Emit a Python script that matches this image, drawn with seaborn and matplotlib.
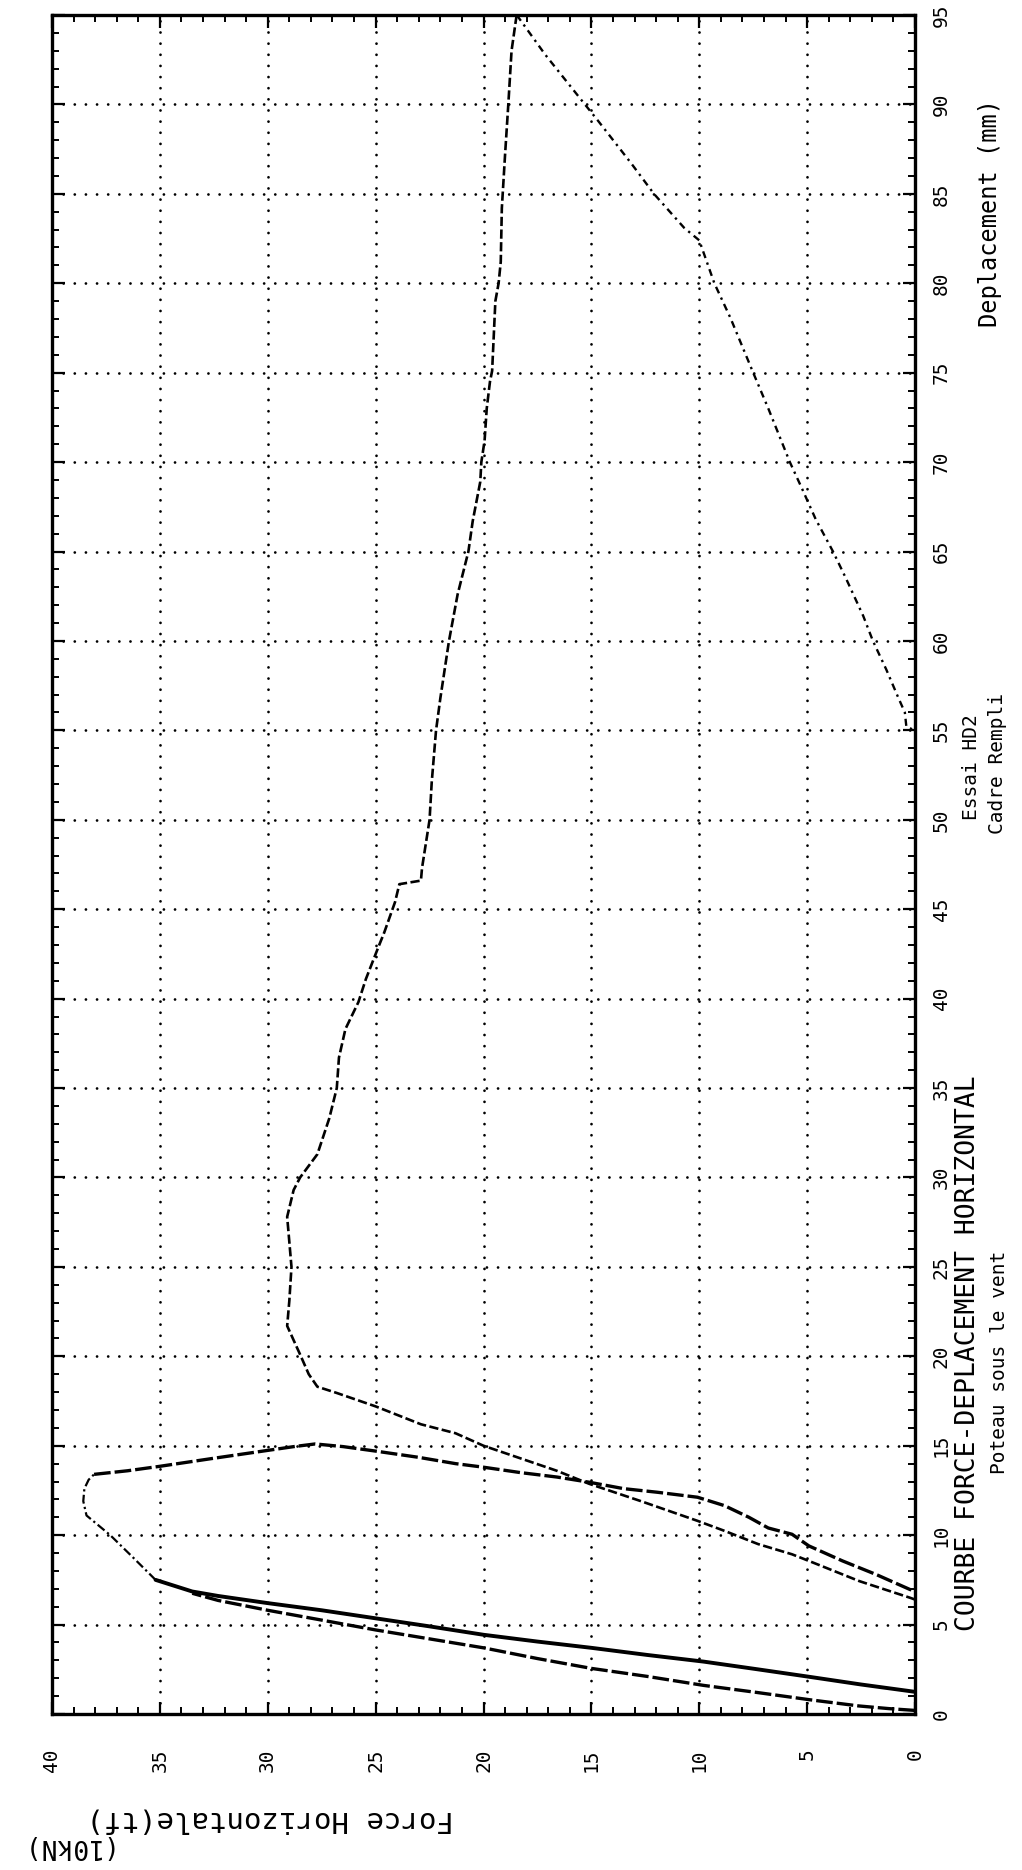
import matplotlib
matplotlib.use("Agg")
import matplotlib.pyplot as plt
import pandas as pd
import seaborn as sns
from matplotlib.ticker import MultipleLocator

# ---------------- data (Force in tf, Deplacement in mm) ----------------
# first loading, lower dashed branch
load1a_force = [0, 1.2, 2.6, 4.9, 7.3, 9.8, 12.4, 15, 17.5, 20, 22.5, 25, 27.5, 30, 32.3, 33.5]
load1a_depl = [0.2, 0.3, 0.45, 0.8, 1.2, 1.6, 2.1, 2.55, 3.1, 3.7, 4.2, 4.7, 5.25, 5.8, 6.35, 6.75]

# first loading, upper solid branch
load1b_force = [0, 2.5, 4.9, 7.3, 9.8, 12.4, 15, 17.5, 20, 22.5, 25, 27.5, 30, 32.3, 33.5, 35.2]
load1b_depl = [1.24, 1.65, 2.08, 2.5, 2.93, 3.3, 3.7, 4.05, 4.43, 4.9, 5.35, 5.8, 6.2, 6.6, 6.85, 7.5]

# peak of first cycle
peak_force = [35.2, 36.2, 37.3, 38.0, 38.4, 38.55, 38.5, 38.3, 38.05]
peak_depl = [7.5, 8.7, 10.0, 10.7, 11.1, 11.9, 12.6, 13.1, 13.4]

# first unloading
unload1_force = [38.05, 36.5, 35, 32.5, 30, 28.8, 27.8, 26.5, 25, 23, 21.3, 20, 18.3, 16.6,
                 15.1, 13.5, 11.95, 10.08, 8.83, 7.7, 6.8, 5.7, 4.92, 3.36, 1.8, 0.23, 0]
unload1_depl = [13.4, 13.6, 13.85, 14.3, 14.74, 14.95, 15.1, 14.95, 14.7, 14.35, 14.0, 13.8, 13.5, 13.25,
                12.96, 12.6, 12.4, 12.12, 11.65, 11.0, 10.4, 10.05, 9.4, 8.56, 7.8, 6.96, 6.9]

# second loading up to 95 mm
load2_force = [0, 0.23, 2.58, 4.92, 5.7, 7.27, 8.83, 10.08, 12.7, 15.1, 16.6, 20, 21.3, 22.9, 25,
               26.8, 27.7, 28.1, 28.5, 29.1, 29.0, 28.9, 29.1, 28.8, 28.5, 27.7, 27.15, 26.8, 26.7,
               26.4, 25.8, 25.45, 24.9, 24.6, 24.1, 23.9, 22.9, 22.85, 22.5, 22.4, 22.2, 22.0, 21.6,
               21.2, 20.7, 20.5, 20.15, 20.1, 19.95, 19.85, 19.7, 19.6, 19.45, 19.3, 19.2, 19.15,
               19.0, 18.85, 18.7, 18.5, 18.46]
load2_depl = [6.4, 6.5, 7.43, 8.56, 8.93, 9.5, 10.24, 10.8, 11.9, 12.87, 13.6, 15.0, 15.7, 16.2, 17.2,
              17.95, 18.3, 19.0, 20.1, 21.7, 23.1, 25.0, 27.8, 29.3, 30.0, 31.3, 33.3, 35.0, 36.7,
              38.3, 39.8, 41.1, 42.8, 43.7, 45.4, 46.4, 46.6, 47.3, 50.0, 52.1, 55.0, 56.8, 60.0,
              62.6, 65.0, 66.7, 68.9, 70.0, 71.2, 73.0, 74.5, 75.1, 79.0, 80.0, 81.2, 84.2,
              87.2, 90.0, 93.0, 94.7, 95.0]

# final unloading
unload2_force = [18.46, 17.15, 15.3, 14.7, 13.15, 12.1, 10.7, 10.0, 9.3, 8.55, 7.5, 6.8, 5.8, 5.23,
                 4.6, 3.8, 3.2, 2.4, 1.95, 1.33, 0.8, 0.47, 0.4, 0]
unload2_depl = [95, 92.8, 90.0, 89.1, 86.7, 85.0, 83.1, 82.4, 80.0, 78.05, 75.0, 73.0, 70.0, 68.5,
                66.8, 65.0, 63.5, 61.4, 60.0, 58.4, 56.9, 56.0, 55.2, 55.0]

force_ticks = [0, 5, 10, 15, 20, 25, 30, 35, 40]
depl_ticks = list(range(0, 100, 5))

# ---------------- figure ----------------
sns.set_theme(style="white")
plt.rcParams["font.family"] = ["DejaVu Sans Mono", "DejaVu Sans"]

W, H = 1022, 1870
fig = plt.figure(figsize=(W / 100, H / 100), dpi=100)
fig.patch.set_facecolor("white")
L, R, T, B = 52, 915, 15, 1714
ax = fig.add_axes([L / W, 1 - B / H, (R - L) / W, (B - T) / H])
ax.set_facecolor("white")

curves = [
    (load1a_force, load1a_depl, 2.4, (0, (5, 1.2))),
    (load1b_force, load1b_depl, 2.8, "-"),
    (peak_force, peak_depl, 1.6, (0, (4, 1.5, 1, 1.5))),
    (unload1_force, unload1_depl, 2.4, (0, (5, 1.2))),
    (load2_force, load2_depl, 1.9, (0, (3.5, 1.3))),
    (unload2_force, unload2_depl, 1.7, (0, (3, 2, 1, 2))),
]
for f, d, lw, ls in curves:
    df = pd.DataFrame({"force": f, "depl": d})
    sns.lineplot(data=df, x="force", y="depl", sort=False, estimator=None, ax=ax,
                 color="black", linewidth=lw, linestyle=ls)

ax.set_xlim(40, 0)
ax.set_ylim(0, 95)
ax.set_xlabel("")
ax.set_ylabel("")

ax.set_xticks(force_ticks)
ax.set_xticklabels([str(v) for v in force_ticks], rotation=90, va="top", ha="center", fontsize=14)
ax.xaxis.set_minor_locator(MultipleLocator(1))
ax.set_yticks(depl_ticks)
ax.yaxis.set_minor_locator(MultipleLocator(1))
ax.tick_params(axis="y", which="both", left=True, right=True, labelleft=False, labelright=True,
               direction="in", colors="black")
ax.set_yticklabels([str(v) for v in depl_ticks], rotation=90, va="center", ha="left", fontsize=14)
ax.tick_params(axis="x", which="both", bottom=True, top=True, labelbottom=True, labeltop=False,
               direction="in", colors="black")
ax.tick_params(which="major", length=9, width=1.6)
ax.tick_params(which="minor", length=5, width=1.4)
ax.tick_params(axis="x", which="major", pad=25)
ax.tick_params(axis="y", which="major", pad=12)

ax.grid(True, which="major", color="black", linestyle=(0, (0.01, 4)), linewidth=2.0,
        dash_capstyle="round")
ax.set_axisbelow(True)
for s in ax.spines.values():
    s.set_linewidth(2.4)
    s.set_color("black")
    s.set_visible(True)

def ftext(x, y, s, rot, size):
    fig.text(x / W, 1 - y / H, s, rotation=rot, ha="center", va="center", fontsize=size,
             color="black")

ftext(990, 213, "Deplacement (mm)", 90, 17)
ftext(971, 767, "Essai HD2", 90, 14)
ftext(997, 763, "Cadre Rempli", 90, 14)
ftext(968, 1353, "COURBE FORCE-DEPLACEMENT HORIZONTAL", 90, 19)
ftext(999, 1362, "Poteau sous le vent", 90, 14)
ftext(270, 1819, "Force Horizontale(tf)", 180, 21)
ftext(62, 1846, "(10kN)", 180, 19)

fig.savefig("out.png", dpi=100, facecolor="white")
